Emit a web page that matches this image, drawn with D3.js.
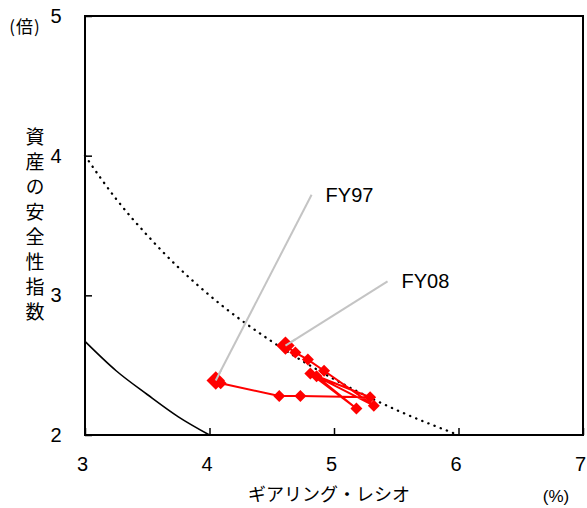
<!DOCTYPE html>
<html>
<head>
<meta charset="utf-8">
<script src="https://cdn.jsdelivr.net/npm/d3@7"></script>
<style>
  html, body { margin: 0; padding: 0; background: #fff; }
  svg { display: block; }
</style>
</head>
<body>
<svg id="chart" width="587" height="508"></svg>
<script>
// Gearing ratio (x) vs. asset safety index (y), FY97 to FY08
const gearing = [4.05, 4.09, 4.56, 4.73, 5.29, 4.81, 5.18, 4.86, 5.32, 4.92, 4.79, 4.69, 4.61];
const safety  = [2.39, 2.37, 2.28, 2.28, 2.27, 2.44, 2.19, 2.42, 2.21, 2.46, 2.54, 2.59, 2.64];

// Reference curves (equal-product lines)
const dottedX = [3, 3.25, 3.5, 3.75, 4, 4.5, 5, 5.5, 6];
const dottedY = [4.0, 3.69, 3.43, 3.2, 3.0, 2.67, 2.4, 2.18, 2.0];
const solidX  = [3, 3.25, 3.5, 3.75, 4];
const solidY  = [2.67, 2.46, 2.29, 2.13, 2.0];

const xTicks = [3, 4, 5, 6, 7];
const yTicks = [2, 3, 4, 5];

const labels = [
  { text: "FY97", index: 0, tx: 4.82, ty: 3.72 },
  { text: "FY08", index: 12, tx: 5.43, ty: 3.1 }
];

const yTitle = "資産の安全性指数";

const svg = d3.select("#chart");
const plotLeft = 85, plotRight = 583, plotTop = 16, plotBottom = 435;

const x = d3.scaleLinear().domain([3, 7]).range([plotLeft, plotRight]);
const y = d3.scaleLinear().domain([2, 5]).range([plotBottom, plotTop]);

const jp = "'Noto Sans CJK JP', 'Noto Sans', sans-serif";
const latin = "'Liberation Sans', Arial, sans-serif";

const plot = svg.append("g");

// reference curves
const curveLine = d3.line().x(d => x(d[0])).y(d => y(d[1])).curve(d3.curveMonotoneX);
plot.append("path")
  .datum(dottedX.map((v, i) => [v, dottedY[i]]))
  .attr("d", curveLine)
  .attr("fill", "none")
  .attr("stroke", "#000")
  .attr("stroke-width", 2.3)
  .attr("stroke-linecap", "round")
  .attr("stroke-dasharray", "0.3,6.3");
plot.append("path")
  .datum(solidX.map((v, i) => [v, solidY[i]]))
  .attr("d", curveLine)
  .attr("fill", "none")
  .attr("stroke", "#000")
  .attr("stroke-width", 1.6);

// leader lines
labels.forEach(l => {
  plot.append("line")
    .attr("x1", x(gearing[l.index])).attr("y1", y(safety[l.index]))
    .attr("x2", x(l.tx)).attr("y2", y(l.ty))
    .attr("stroke", "#c4c4c4")
    .attr("stroke-width", 2);
});

// data path
const pts = gearing.map((v, i) => [v, safety[i]]);
plot.append("path")
  .datum(pts)
  .attr("d", d3.line().x(d => x(d[0])).y(d => y(d[1])))
  .attr("fill", "none")
  .attr("stroke", "#ff0000")
  .attr("stroke-width", 2);

// square markers turned 45° (diamonds)
const square = d3.symbol().type(d3.symbolSquare);
plot.selectAll(".mk").data(pts).join("path")
  .attr("class", "mk")
  .attr("transform", d => `translate(${x(d[0])},${y(d[1])}) rotate(45)`)
  .attr("d", (d, i) => square.size(i === 0 || i === pts.length - 1 ? 170 : 72)())
  .attr("fill", "#ff0000");

// short leader segment over the end markers, and the labels
labels.forEach(l => {
  const x0 = x(gearing[l.index]), y0 = y(safety[l.index]);
  const x1 = x(l.tx), y1 = y(l.ty);
  const t = 12 / Math.hypot(x1 - x0, y1 - y0);
  plot.append("line")
    .attr("x1", x0).attr("y1", y0)
    .attr("x2", x0 + (x1 - x0) * t).attr("y2", y0 + (y1 - y0) * t)
    .attr("stroke", "#c4c4c4")
    .attr("stroke-width", 2);
  svg.append("text")
    .attr("x", x1 + 14).attr("y", y1)
    .attr("dy", "0.35em")
    .attr("font-family", latin)
    .attr("font-size", 20)
    .attr("fill", "#000")
    .text(l.text);
});

// frame
svg.append("rect")
  .attr("x", plotLeft).attr("y", plotTop)
  .attr("width", plotRight - plotLeft).attr("height", plotBottom - plotTop)
  .attr("fill", "none")
  .attr("stroke", "#000")
  .attr("stroke-width", 2);

// axes with inward ticks
const xAxis = svg.append("g")
  .attr("transform", `translate(0,${plotBottom})`)
  .call(d3.axisBottom(x).tickValues(xTicks).tickSize(-7).tickPadding(22).tickFormat(d3.format("d")));
const yAxis = svg.append("g")
  .attr("transform", `translate(${plotLeft},0)`)
  .call(d3.axisLeft(y).tickValues(yTicks).tickSize(-7).tickPadding(23).tickFormat(d3.format("d")));
[xAxis, yAxis].forEach(a => {
  a.select(".domain").remove();
  a.selectAll(".tick line").attr("stroke", "#000").attr("stroke-width", 1.5);
  a.selectAll(".tick text")
    .attr("font-family", latin)
    .attr("font-size", 20)
    .attr("fill", "#000");
});
xAxis.selectAll(".tick text").attr("dx", -3);
yAxis.selectAll(".tick text").attr("text-anchor", "middle").attr("dx", 0).attr("x", -29);

// titles
svg.append("text")
  .attr("x", 329).attr("y", 495)
  .attr("dy", "0.35em")
  .attr("text-anchor", "middle")
  .attr("font-family", jp)
  .attr("font-size", 18)
  .text("ギアリング・レシオ");

svg.append("text")
  .attr("x", 556).attr("y", 496)
  .attr("dy", "0.35em")
  .attr("text-anchor", "middle")
  .attr("font-family", latin)
  .attr("font-size", 17)
  .text("(%)");

svg.append("text")
  .attr("x", 25).attr("y", 27)
  .attr("dy", "0.35em")
  .attr("text-anchor", "middle")
  .attr("font-family", jp)
  .attr("font-size", 17)
  .attr("letter-spacing", 1)
  .text("(倍)");

// vertical y-axis title
svg.append("text")
  .attr("x", 35)
  .attr("y", 127)
  .attr("font-family", jp)
  .attr("font-size", 19)
  .attr("letter-spacing", 6)
  .style("writing-mode", "vertical-rl")
  .style("glyph-orientation-vertical", "0")
  .text(yTitle);
</script>
</body>
</html>
